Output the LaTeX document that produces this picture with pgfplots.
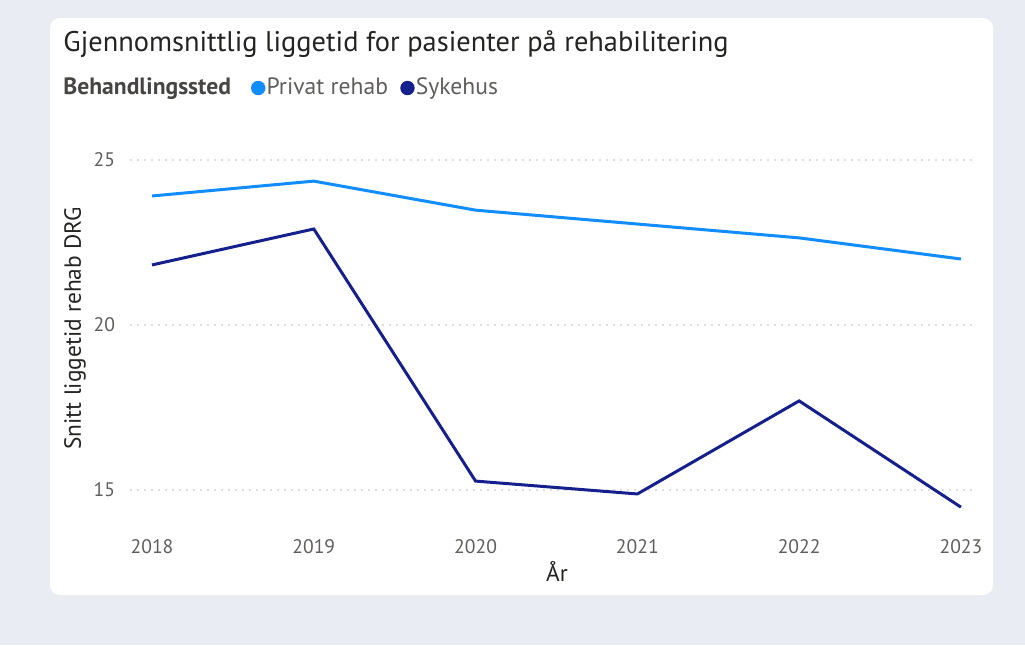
\documentclass[border=0pt]{standalone}
\usepackage{pgfplots}
\pgfplotsset{compat=1.18}
\usepackage{fontspec}
\setmainfont{PT Sans}
\definecolor{bgc}{RGB}{233,237,243}
\definecolor{privat}{RGB}{17,141,255}
\definecolor{sykehus}{RGB}{22,32,140}
\definecolor{titlec}{RGB}{37,36,35}
\definecolor{tickc}{RGB}{96,94,92}
\begin{document}
\begin{tikzpicture}
\fill[bgc] (0,0) rectangle (512.5pt,322.5pt);
\fill[white, rounded corners=5pt] (25pt,25pt) rectangle (496.5pt,313.5pt);
\node[anchor=west, inner sep=0pt, font=\fontsize{14.2}{16}\selectfont, text=titlec] at (31.5pt,300.5pt) {Gjennomsnittlig liggetid for pasienter på rehabilitering};
\node[anchor=west, inner sep=0pt, font=\fontsize{11.8}{14}\selectfont\bfseries, text=titlec!85] at (31.5pt,278pt) {Behandlingssted};
\begin{axis}[
  at={(65pt,61pt)}, anchor=south west,
  scale only axis, width=422.5pt, height=189.75pt,
  xmin=2017.864, xmax=2023.087, ymin=14, ymax=25.5,
  axis line style={draw=none}, major tick length=0pt,
  xtick={2018,2019,2020,2021,2022,2023},
  ytick={15,20,25},
  xticklabel style={/pgf/number format/1000 sep={}, yshift=-4.5pt},
  yticklabel style={xshift=-4pt},
  ticklabel style={font=\fontsize{9.8}{11}\selectfont, text=tickc},
  /pgf/number format/assume math mode=true,
  ymajorgrids, grid style={line width=0.9pt, color=black!13, dash pattern=on 0.9pt off 2.6pt},
  xlabel={År}, ylabel={Snitt liggetid rehab DRG},
  label style={font=\fontsize{11.7}{13}\selectfont, text=titlec},
  xlabel style={at={(axis description cs:0.5053,-0.1291)}, anchor=center},
  ylabel style={at={(axis description cs:-0.0651,0.513)}, anchor=center},
  legend columns=-1,
  legend style={at={(axis description cs:0.1432,1.1462)}, anchor=west, draw=none, fill=none, inner sep=0pt, outer sep=0pt,
    font=\fontsize{11.8}{14}\selectfont, text=tickc,
    nodes={inner sep=0.6pt},
    /tikz/every even column/.style={column sep=5.5pt}},
  legend image code/.code={\fill[draw=none] (3.6pt,0pt) circle (3.6pt);},
]
\addplot[privat, line width=1.5pt] coordinates {(2018,23.91) (2019,24.36) (2020,23.48) (2021,23.06) (2022,22.64) (2023,22.0)};
\addlegendentry{Privat rehab}
\addplot[sykehus, line width=1.5pt] coordinates {(2018,21.82) (2019,22.91) (2020,15.27) (2021,14.88) (2022,17.70) (2023,14.48)};
\addlegendentry{Sykehus}
\end{axis}
\end{tikzpicture}
\end{document}
